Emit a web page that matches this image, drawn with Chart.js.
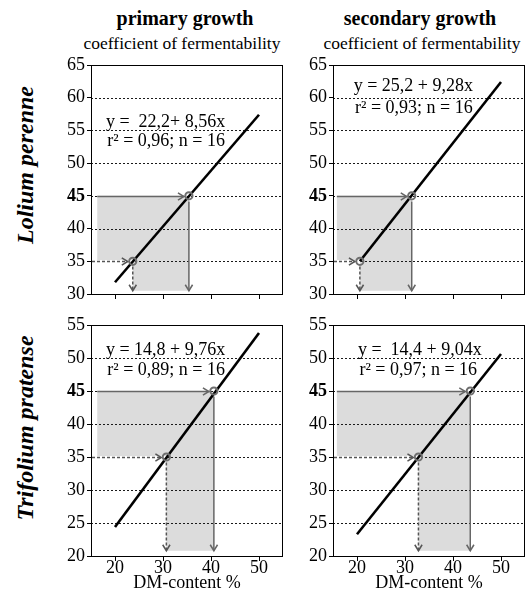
<!DOCTYPE html>
<html><head><meta charset="utf-8">
<script src="https://cdn.jsdelivr.net/npm/chart.js@4.4.1/dist/chart.umd.min.js"></script>
<style>
body{margin:0;background:#fff;width:531px;height:591px;overflow:hidden;position:relative;font-family:"Liberation Serif","Times New Roman",serif;color:#000;}
canvas{position:absolute;left:0;top:0;}
.t{position:absolute;white-space:nowrap;transform:translate(-50%,-50%);line-height:1;}
.title{font-weight:bold;font-size:20px;}
.sub{font-size:17.5px;}
.row{font-weight:bold;font-style:italic;font-size:24px;transform:translate(-50%,-50%) rotate(-90deg);}
</style></head><body>
<div class="t title" style="left:185px;top:18px">primary growth</div>
<div class="t title" style="left:420px;top:18px">secondary growth</div>
<div class="t sub" style="left:182px;top:44px">coefficient of fermentability</div>
<div class="t sub" style="left:422px;top:44px">coefficient of fermentability</div>
<div class="t row" style="left:25px;top:165px">Lolium perenne</div>
<div class="t row" style="left:25px;top:428px">Trifolium pratense</div>
<canvas id="c0" width="531" height="591"></canvas>
<canvas id="c1" width="531" height="591"></canvas>
<canvas id="c2" width="531" height="591"></canvas>
<canvas id="c3" width="531" height="591"></canvas>
<script>
// ---- data ----
const xTicks = [20, 30, 40, 50];
const yTicksTop = [30, 35, 40, 45, 50, 55, 60, 65];
const yTicksBottom = [20, 25, 30, 35, 40, 45, 50, 55];
const fcLevels = [35, 45];           // coefficient of fermentability levels marked
const xLabel = "DM-content %";

const loliumPrimaryLine = [{x: 20, y: 31.8}, {x: 50, y: 57.4}];
const loliumPrimaryDM = [23.7, 35.4];
const loliumSecondaryLine = [{x: 20.6, y: 35}, {x: 50, y: 62.4}];
const loliumSecondaryDM = [20.6, 31.4];
const trifoliumPrimaryLine = [{x: 20, y: 24.4}, {x: 50, y: 53.8}];
const trifoliumPrimaryDM = [30.7, 40.6];
const trifoliumSecondaryLine = [{x: 20, y: 23.3}, {x: 50, y: 50.6}];
const trifoliumSecondaryDM = [32.8, 43.6];

const eqLoliumPrimary = ["y =  22,2+ 8,56x", "r\u00B2 = 0,96; n = 16"];
const eqLoliumSecondary = ["y = 25,2 + 9,28x", "r\u00B2 = 0,93; n = 16"];
const eqTrifoliumPrimary = ["y = 14,8 + 9,76x", "r\u00B2 = 0,89; n = 16"];
const eqTrifoliumSecondary = ["y =  14,4 + 9,04x", "r\u00B2 = 0,97; n = 16"];

// ---- drawing ----
const FONT = '"Liberation Serif","Times New Roman",serif';
Chart.defaults.font.family = FONT;
Chart.defaults.color = '#000';

function arrow(ctx, x1, y1, x2, y2, dashed, color) {
  ctx.save();
  ctx.strokeStyle = color; ctx.lineWidth = 1.5;
  ctx.setLineDash(dashed ? [3, 2] : []);
  ctx.beginPath(); ctx.moveTo(x1, y1); ctx.lineTo(x2, y2); ctx.stroke();
  ctx.setLineDash([]);
  const a = Math.atan2(y2 - y1, x2 - x1), s = 7;
  ctx.beginPath();
  ctx.moveTo(x2 - s * Math.cos(a - 0.55), y2 - s * Math.sin(a - 0.55));
  ctx.lineTo(x2, y2);
  ctx.lineTo(x2 - s * Math.cos(a + 0.55), y2 - s * Math.sin(a + 0.55));
  ctx.stroke();
  ctx.restore();
}

const annot = {
  id: 'annot',
  beforeDraw(chart, args, o) {
    const ctx = chart.ctx, xs = chart.scales.x, ys = chart.scales.y, a = chart.chartArea;
    const X = v => xs.getPixelForValue(v), Y = v => ys.getPixelForValue(v);
    ctx.save();
    ctx.fillStyle = '#dcdcdc';
    ctx.beginPath();
    ctx.moveTo(X(o.shadeLeft), Y(fcLevels[1]));
    ctx.lineTo(X(o.dm[1]), Y(fcLevels[1]));
    ctx.lineTo(X(o.dm[1]), Y(o.shadeBottom));
    ctx.lineTo(X(o.dm[0]), Y(o.shadeBottom));
    ctx.lineTo(X(o.dm[0]), Y(fcLevels[0]));
    ctx.lineTo(X(o.shadeLeft), Y(fcLevels[0]));
    ctx.closePath(); ctx.fill();
    // dotted horizontal grid lines
    ctx.strokeStyle = '#1a1a1a'; ctx.lineWidth = 1; ctx.setLineDash([2, 2]);
    ys.ticks.forEach(t => {
      if (t.value <= ys.min || t.value >= ys.max) return;
      const y = Math.round(Y(t.value)) + 0.5;
      ctx.beginPath(); ctx.moveTo(a.left, y); ctx.lineTo(a.right, y); ctx.stroke();
    });
    ctx.restore();
  },
  beforeDatasetsDraw(chart, args, o) {
    const ctx = chart.ctx, xs = chart.scales.x, ys = chart.scales.y;
    const X = v => xs.getPixelForValue(v), Y = v => ys.getPixelForValue(v);
    const r = 5;
    const y35 = Math.round(Y(fcLevels[0])) + 0.5, y45 = Math.round(Y(fcLevels[1])) + 0.5;
    ctx.save(); ctx.fillStyle = '#fff';
    ctx.fillRect(chart.chartArea.left + 1, y35 - 1.5, X(o.dm[0]) - chart.chartArea.left - 1, 3);
    ctx.restore();
    // FC 35: dashed
    arrow(ctx, chart.chartArea.left + 1, y35, X(o.dm[0]) - r, y35, true, '#555');
    arrow(ctx, X(o.dm[0]), y35 + r, X(o.dm[0]), Y(o.shadeBottom), true, '#555');
    // FC 45: solid
    arrow(ctx, X(o.shadeLeft), y45, X(o.dm[1]) - r, y45, false, '#666');
    arrow(ctx, X(o.dm[1]), y45 + r, X(o.dm[1]), Y(o.shadeBottom), false, '#666');
  },
  afterDraw(chart, args, o) {
    const ctx = chart.ctx, a = chart.chartArea, xs = chart.scales.x, ys = chart.scales.y;
    ctx.save();
    ctx.strokeStyle = '#000'; ctx.lineWidth = 1;
    ctx.strokeRect(Math.round(a.left) + 0.5, Math.round(a.top) + 0.5,
                   Math.round(a.right - a.left) - 1, Math.round(a.bottom - a.top));
    ctx.font = '18px ' + FONT; ctx.fillStyle = '#000';
    ctx.textBaseline = 'middle'; ctx.textAlign = 'left';
    ctx.fillText(o.eq[0], xs.getPixelForValue(o.eqPos[0]), ys.getPixelForValue(o.eqPos[1]));
    ctx.fillText(o.eq[1], xs.getPixelForValue(o.eqPos[0] + 0.3), ys.getPixelForValue(o.eqPos[2]));
    ctx.restore();
  }
};

const W = 531, H = 591;
const panels = [
  {id: 'c0', area: {left: 91, right: 283, top: 65, bottom: 294}, yMin: 30, yMax: 65, yTicks: yTicksTop,
   line: loliumPrimaryLine, dm: loliumPrimaryDM, eq: eqLoliumPrimary, eqPos: [18.1, 56.3, 53.3],
   shadeLeft: 16.3, shadeBottom: 30.5, labels: false},
  {id: 'c1', area: {left: 333, right: 526, top: 65, bottom: 294}, yMin: 30, yMax: 65, yTicks: yTicksTop,
   line: loliumSecondaryLine, dm: loliumSecondaryDM, eq: eqLoliumSecondary, eqPos: [19.3, 61.7, 58.4],
   shadeLeft: 15.8, shadeBottom: 30.5, labels: false},
  {id: 'c2', area: {left: 91, right: 283, top: 325, bottom: 556}, yMin: 20, yMax: 55, yTicks: yTicksBottom,
   line: trifoliumPrimaryLine, dm: trifoliumPrimaryDM, eq: eqTrifoliumPrimary, eqPos: [18.1, 51.2, 48.2],
   shadeLeft: 16.3, shadeBottom: 20.8, labels: true},
  {id: 'c3', area: {left: 333, right: 526, top: 325, bottom: 556}, yMin: 20, yMax: 55, yTicks: yTicksBottom,
   line: trifoliumSecondaryLine, dm: trifoliumSecondaryDM, eq: eqTrifoliumSecondary, eqPos: [20.2, 51.2, 48.2],
   shadeLeft: 15.8, shadeBottom: 20.8, labels: true}
];

const YW = 40;
panels.forEach(p => {
  const xH = p.labels ? 35 : 12;
  new Chart(document.getElementById(p.id), {
    type: 'scatter',
    data: {
      datasets: [
        {type: 'scatter', data: p.dm.map((d, i) => ({x: d, y: fcLevels[i]})), order: 0,
         pointRadius: 3.6, pointBorderWidth: 2, pointBorderColor: '#6e6e6e',
         pointBackgroundColor: 'rgba(0,0,0,0)', showLine: false},
        {type: 'line', data: p.line, order: 1, borderColor: '#000', borderWidth: 2.6,
         pointRadius: 0, fill: false, tension: 0}
      ]
    },
    options: {
      responsive: false, animation: false, events: [],
      layout: {padding: {left: p.area.left - YW, right: W - p.area.right, top: p.area.top, bottom: H - p.area.bottom - xH}},
      plugins: {legend: {display: false}, tooltip: {enabled: false},
        annot: {dm: p.dm, eq: p.eq, eqPos: p.eqPos, shadeLeft: p.shadeLeft, shadeBottom: p.shadeBottom}},
      scales: {
        x: {type: 'linear', min: 15, max: 55,
          afterFit: s => { s.height = xH; },
          afterBuildTicks: s => { s.ticks = xTicks.map(v => ({value: v})); },
          border: {display: false},
          grid: {drawOnChartArea: false, drawTicks: true, tickLength: 5, tickColor: '#000', tickWidth: 1},
          ticks: {display: p.labels, padding: -2, font: {size: 18, lineHeight: 1}, color: '#000', maxRotation: 0},
          title: {display: p.labels, text: xLabel, font: {size: 18, lineHeight: 1}, color: '#000', padding: {top: 0, bottom: -1}}
        },
        y: {type: 'linear', min: p.yMin, max: p.yMax,
          afterFit: s => { s.width = YW; },
          afterBuildTicks: s => { s.ticks = p.yTicks.map(v => ({value: v})); },
          border: {display: false},
          grid: {drawOnChartArea: false, drawTicks: true, tickLength: 4, tickColor: '#000', tickWidth: 1},
          ticks: {padding: 2, color: '#000',
            font: c => ({size: 18, weight: (c.tick && c.tick.value === 45) ? 'bold' : 'normal'})}
        }
      }
    },
    plugins: [annot]
  });
});
</script>
</body></html>
